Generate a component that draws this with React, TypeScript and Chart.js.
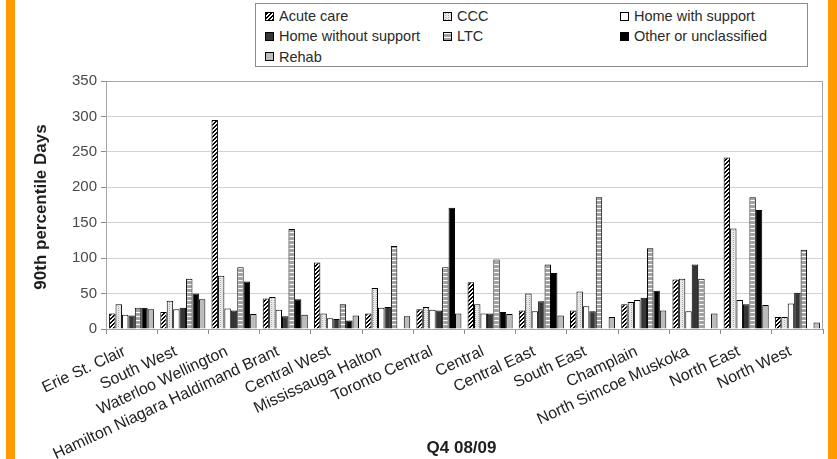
import React, { useEffect, useMemo, useRef } from "react";
import { Chart, registerables } from "chart.js";

Chart.register(...registerables);

// Regions (LHINs) along the category axis
const regions = [
  "Erie St. Clair",
  "South West",
  "Waterloo Wellington",
  "Hamilton Niagara Haldimand Brant",
  "Central West",
  "Mississauga Halton",
  "Toronto Central",
  "Central",
  "Central East",
  "South East",
  "Champlain",
  "North Simcoe Muskoka",
  "North East",
  "North West",
];

// 90th percentile days by discharge destination
const acuteCare = [22, 24, 295, 43, 94, 22, 28, 66, 26, 26, 35, 70, 242, 17];
const ccc = [35, 40, 75, 45, 22, 58, 31, 35, 50, 53, 38, 71, 142, 17];
const homeWithSupport = [20, 28, 29, 27, 15, 30, 27, 22, 25, 32, 41, 25, 41, 36];
const homeWithoutSupport = [19, 30, 26, 18, 14, 31, 26, 22, 39, 25, 44, 91, 35, 51];
const ltc = [30, 71, 87, 141, 35, 117, 87, 98, 91, 186, 114, 71, 186, 112];
const otherUnclassified = [30, 50, 67, 42, 12, null, 171, 24, 79, null, 54, null, 168, null];
const rehab = [28, 42, 21, 20, 19, 18, 22, 21, 19, 17, 26, 22, 34, 9];

const yMin = 0;
const yMax = 350;
const yStep = 50;

const xTitle = "Q4 08/09";
const yTitle = "90th percentile Days";

const FONT = '"Liberation Sans", Arial, Helvetica, sans-serif';

type Pick = (x: number, y: number) => string;

function makeTile(w: number, h: number, pick: Pick): HTMLCanvasElement {
  const c = document.createElement("canvas");
  c.width = w;
  c.height = h;
  const g = c.getContext("2d")!;
  for (let y = 0; y < h; y++) {
    for (let x = 0; x < w; x++) {
      g.fillStyle = pick(x, y);
      g.fillRect(x, y, 1, 1);
    }
  }
  return c;
}

type SeriesDef = {
  label: string;
  data: (number | null)[];
  tile: () => HTMLCanvasElement;
};

const seriesDefs: SeriesDef[] = [
  {
    label: "Acute care",
    data: acuteCare,
    tile: () => makeTile(4, 4, (x, y) => ((x + y) % 4 < 2 ? "#000000" : "#ffffff")),
  },
  {
    label: "CCC",
    data: ccc,
    tile: () =>
      makeTile(3, 2, (x, y) => (x === 1 ? (y === 0 ? "#a8a8a8" : "#f4f4f4") : "#e6e6e6")),
  },
  {
    label: "Home with support",
    data: homeWithSupport,
    tile: () => makeTile(1, 1, () => "#ffffff"),
  },
  {
    label: "Home without support",
    data: homeWithoutSupport,
    tile: () => makeTile(1, 1, () => "#363636"),
  },
  {
    label: "LTC",
    data: ltc,
    tile: () => makeTile(1, 4, (_x, y) => (y === 0 ? "#ffffff" : "#a2a2a2")),
  },
  {
    label: "Other or unclassified",
    data: otherUnclassified,
    tile: () => makeTile(1, 1, () => "#000000"),
  },
  {
    label: "Rehab",
    data: rehab,
    tile: () => makeTile(1, 1, () => "#bcbcbc"),
  },
];

// Legend grid: three columns, row-major
const legendCols = [265, 443, 620];
const legendRows = [16, 36, 56.5];

const frameAndTitles = {
  id: "frameAndTitles",
  beforeDatasetsDraw(chart: any) {
    const { ctx, chartArea: a } = chart;
    ctx.save();
    ctx.strokeStyle = "#a6a6a6";
    ctx.lineWidth = 1;
    ctx.strokeRect(a.left + 0.5, a.top + 0.5, a.right - a.left - 1, a.bottom - a.top);
    ctx.restore();
  },
  afterDraw(chart: any) {
    const { ctx, chartArea: a } = chart;
    ctx.save();
    ctx.fillStyle = "#1e1e1e";
    ctx.font = `bold 17px ${FONT}`;
    ctx.textAlign = "center";
    ctx.textBaseline = "middle";
    ctx.translate(41, (a.top + a.bottom) / 2 + 2);
    ctx.rotate(-Math.PI / 2);
    ctx.fillText(yTitle, 0, 0);
    ctx.restore();

    ctx.save();
    ctx.fillStyle = "#1e1e1e";
    ctx.font = `bold 17px ${FONT}`;
    ctx.textAlign = "center";
    ctx.textBaseline = "middle";
    ctx.fillText(xTitle, (a.left + a.right) / 2 - 3, 448);
    ctx.restore();
  },
};

export default function App() {
  const canvasRef = useRef<HTMLCanvasElement | null>(null);

  const tiles = useMemo(() => seriesDefs.map((s) => s.tile()), []);
  const swatchUrls = useMemo(() => tiles.map((t) => t.toDataURL()), [tiles]);

  useEffect(() => {
    const canvas = canvasRef.current;
    if (!canvas) return;
    const ctx = canvas.getContext("2d")!;

    const datasets = seriesDefs.map((s, i) => ({
      label: s.label,
      data: s.data,
      backgroundColor: ctx.createPattern(tiles[i], "repeat") as any,
      borderColor: "#000000",
      borderWidth: 1,
      borderSkipped: "bottom" as const,
      categoryPercentage: 0.88,
      barPercentage: 1.0,
    }));

    const chart = new Chart(canvas, {
      type: "bar",
      data: { labels: regions, datasets },
      options: {
        responsive: false,
        animation: false,
        layout: { padding: { top: 81, right: 14, left: 0, bottom: 0 } },
        plugins: {
          legend: { display: false },
          tooltip: { enabled: false },
          title: { display: false },
        },
        scales: {
          x: {
            offset: true,
            grid: {
              display: true,
              offset: true,
              drawOnChartArea: false,
              drawTicks: true,
              tickLength: 5,
              tickColor: "#8a8a8a",
            },
            border: { display: true, color: "#8a8a8a" },
            ticks: {
              autoSkip: false,
              maxRotation: 25,
              minRotation: 25,
              labelOffset: -7,
              padding: 8,
              color: "#222222",
              font: { family: FONT, size: 16 },
            },
            afterFit(scale: any) {
              scale.height = 130;
            },
          },
          y: {
            min: yMin,
            max: yMax,
            grid: {
              color: "#d2d2d2",
              lineWidth: 1,
              tickLength: 5,
              tickColor: "#8a8a8a",
            },
            border: { display: true, color: "#8a8a8a" },
            ticks: {
              stepSize: yStep,
              padding: 4,
              color: "#4a4a4a",
              font: { family: FONT, size: 15 },
            },
            afterFit(scale: any) {
              scale.width = 106;
            },
          },
        },
      },
      plugins: [frameAndTitles],
    });

    return () => chart.destroy();
  }, [tiles]);

  return (
    <div
      style={{
        position: "absolute",
        left: 0,
        top: 0,
        width: 837,
        height: 459,
        background: "#ffffff",
        overflow: "hidden",
        fontFamily: FONT,
      }}
    >
      <canvas
        ref={canvasRef}
        width={837}
        height={459}
        style={{ position: "absolute", left: 0, top: 0, width: 837, height: 459 }}
      />
      <div
        style={{
          position: "absolute",
          left: 255,
          top: 3,
          width: 553,
          height: 64,
          boxSizing: "border-box",
          border: "1px solid #8c8c8c",
          background: "#ffffff",
        }}
      />
      {seriesDefs.map((s, i) => {
        const col = i % 3;
        const row = Math.floor(i / 3);
        const x = legendCols[col];
        const y = legendRows[row];
        return (
          <React.Fragment key={s.label}>
            <div
              style={{
                position: "absolute",
                left: x,
                top: y - 4.5,
                width: 9,
                height: 9,
                boxSizing: "border-box",
                border: "1px solid #000000",
                backgroundImage: `url(${swatchUrls[i]})`,
                backgroundRepeat: "repeat",
              }}
            />
            <div
              style={{
                position: "absolute",
                left: x + 14,
                top: y - 9,
                height: 18,
                lineHeight: "18px",
                fontSize: 14.5,
                color: "#2a2a2a",
                whiteSpace: "nowrap",
              }}
            >
              {s.label}
            </div>
          </React.Fragment>
        );
      })}
      <div style={{ position: "absolute", left: 6, top: 0, width: 9, height: 459, background: "#ff9a00" }} />
      <div style={{ position: "absolute", left: 828, top: 0, width: 9, height: 459, background: "#ff9a00" }} />
    </div>
  );
}
